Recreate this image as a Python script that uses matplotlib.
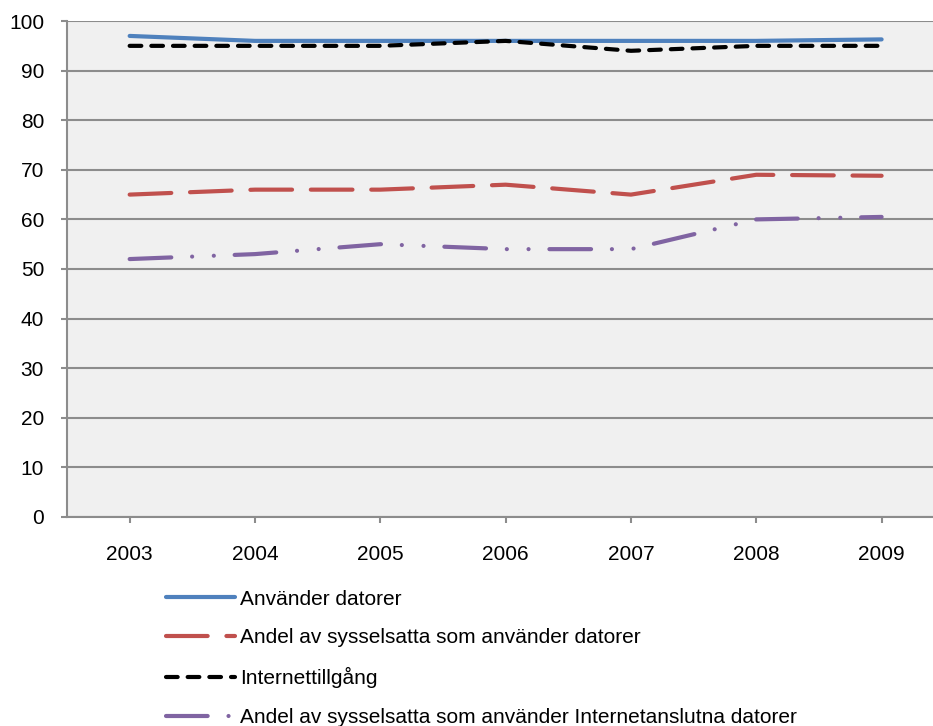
import matplotlib.pyplot as plt
import numpy as np

plt.rcParams["font.family"] = ["Liberation Sans", "DejaVu Sans"]

years = ["2003", "2004", "2005", "2006", "2007", "2008", "2009"]
anvander_datorer = [97, 96, 96, 96, 96, 96, 96.3]
andel_datorer = [65, 66, 66, 67, 65, 69, 68.8]
internettillgang = [95, 95, 95, 96, 94, 95, 95]
andel_internet = [52, 53, 55, 54, 54, 60, 60.5]

labels = [
    "Använder datorer",
    "Andel av sysselsatta som använder datorer",
    "Internettillgång",
    "Andel av sysselsatta som använder Internetanslutna datorer",
]

fig = plt.figure(figsize=(9.33, 7.26), dpi=100)
ax = fig.add_axes([0.0718, 0.288, 0.9282, 0.683])
ax.set_facecolor("#F0F0F0")

x = np.arange(len(years))
ax.plot(x, anvander_datorer, color="#4F81BD", lw=3, solid_capstyle="round",
        label=labels[0], zorder=3)
ax.plot(x, andel_datorer, color="#C0504D", lw=3, dashes=(10, 4.5),
        dash_capstyle="round", label=labels[1], zorder=3)
ax.plot(x, internettillgang, color="black", lw=3, dashes=(2.8, 2.4),
        dash_capstyle="round", label=labels[2], zorder=4)
ax.plot(x, andel_internet, color="#8064A2", lw=3,
        dashes=(10, 5, 0.01, 5.2, 0.01, 5), dash_capstyle="round",
        label=labels[3], zorder=3)

ax.set_xlim(-0.5, 6.41)
ax.set_ylim(0, 100)
ax.set_yticks(range(0, 101, 10))
ax.set_xticks(x)
ax.set_xticklabels(years)
ax.yaxis.grid(True, color="#8C8C8C", lw=1.5)
ax.set_axisbelow(True)
for side in ["top", "right"]:
    ax.spines[side].set_visible(False)
for side in ["left", "bottom"]:
    ax.spines[side].set_color("#8C8C8C")
    ax.spines[side].set_linewidth(1.5)
ax.tick_params(axis="both", colors="#8C8C8C", labelcolor="black",
               labelsize=15, width=1.5, length=4.5)
ax.tick_params(axis="y", pad=12)
ax.tick_params(axis="x", pad=16)

fig.legend(loc="upper left", bbox_to_anchor=(0.178, 0.188), frameon=False,
           fontsize=15, handlelength=3.32, handletextpad=0.24,
           labelspacing=0.95, borderaxespad=0, borderpad=0)

fig.savefig("out.png", dpi=100)
